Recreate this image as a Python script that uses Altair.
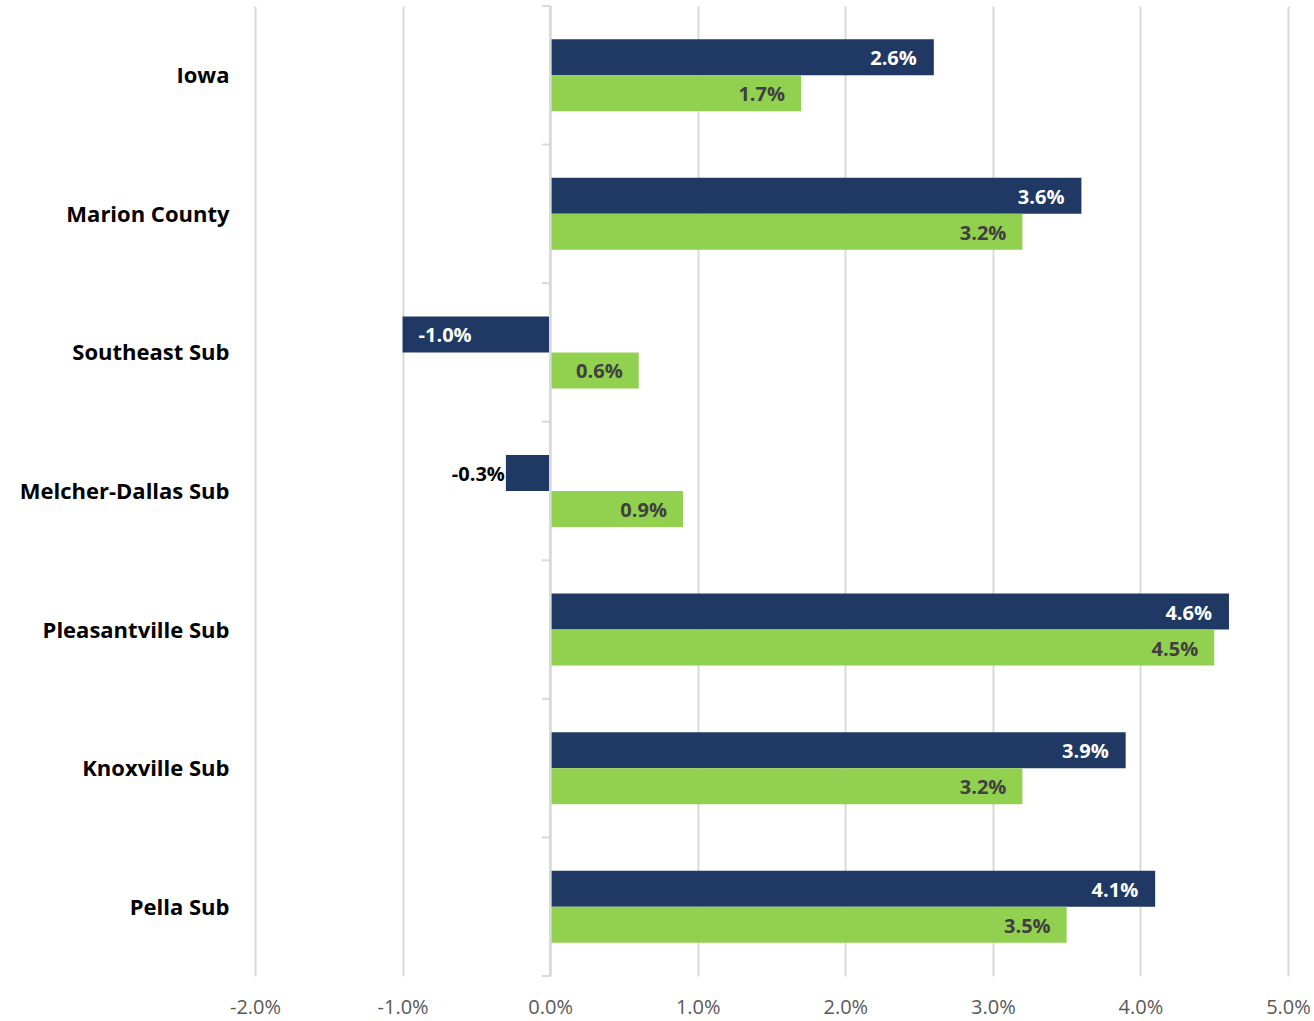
import altair as alt
import pandas as pd

categories = ["Iowa", "Marion County", "Southeast Sub", "Melcher-Dallas Sub",
              "Pleasantville Sub", "Knoxville Sub", "Pella Sub"]
series_names = ["Series 1", "Series 2"]
navy_values = [2.6, 3.6, -1.0, -0.3, 4.6, 3.9, 4.1]
green_values = [1.7, 3.2, 0.6, 0.9, 4.5, 3.2, 3.5]
x_ticks = [-0.02, -0.01, 0.0, 0.01, 0.02, 0.03, 0.04, 0.05]

rows = []
for c, a, b in zip(categories, navy_values, green_values):
    rows.append({"cat": c, "series": series_names[0], "value": a / 100})
    rows.append({"cat": c, "series": series_names[1], "value": b / 100})
df = pd.DataFrame(rows)
cats_df = pd.DataFrame({"cat": categories})

NAVY = "#203864"
GREEN = "#92D050"
GRID = "#d9d9d9"
FONT = "Open Sans"

y_axis = alt.Axis(title=None, domain=False, ticks=False, labelFont=FONT,
                  labelFontWeight="bold", labelFontSize=22, labelColor="#000000",
                  labelPadding=26, labelLimit=400, labelOffset=1)
y_scale = alt.Scale(paddingInner=0, paddingOuter=0)
yenc = alt.Y("cat:N", sort=categories, scale=y_scale, axis=y_axis)
yoff = alt.YOffset("series:N", sort=series_names,
                   scale=alt.Scale(paddingInner=0, paddingOuter=0.925))
x_scale = alt.Scale(domain=[-0.02, 0.05], nice=False, zero=False)
xenc = alt.X("value:Q", scale=x_scale,
             axis=alt.Axis(title=None, format=".1%", values=x_ticks, domain=False,
                           ticks=False, grid=True, gridColor=GRID, gridWidth=2,
                           labelFont=FONT, labelFontSize=20, labelColor="#595959",
                           labelPadding=21, labelFlush=False,
                           labelExpr="replace(datum.label, '\u2212', '-')"))

base = alt.Chart(df).transform_calculate(
    lbl="replace(format(datum.value, '.1%'), '\u2212', '-')"
)

bars = alt.Chart(df).mark_bar().encode(
    x=xenc, y=yenc, yOffset=yoff,
    color=alt.Color("series:N", sort=series_names,
                    scale=alt.Scale(domain=series_names, range=[NAVY, GREEN]),
                    legend=None),
)

txt_common = dict(fontWeight="bold", fontSize=20, font=FONT, baseline="middle", dy=2)
text_enc = dict(x=alt.X("value:Q"), y=alt.Y("cat:N", sort=categories),
                yOffset=yoff, text=alt.Text("lbl:N"))

navy_pos = base.transform_filter(
    (alt.datum.series == series_names[0]) & (alt.datum.value > 0)
).mark_text(align="right", dx=-17, color="white", **txt_common).encode(**text_enc)

navy_neg_big = base.transform_filter(
    (alt.datum.series == series_names[0]) & (alt.datum.value <= -0.005)
).mark_text(align="left", dx=16, color="white", **txt_common).encode(**text_enc)

navy_neg_small = base.transform_filter(
    (alt.datum.series == series_names[0]) & (alt.datum.value < 0) & (alt.datum.value > -0.005)
).mark_text(align="right", dx=-1, color="#000000", **txt_common).encode(**text_enc)

green_txt = base.transform_filter(
    alt.datum.series == series_names[1]
).mark_text(align="right", dx=-16, color="#404040", **txt_common).encode(**text_enc)

zero_line = alt.Chart(cats_df).mark_rule(color=GRID, strokeWidth=2).encode(
    x=alt.datum(0)
)

tick_rules = alt.Chart(cats_df).mark_rule(color=GRID, strokeWidth=2).encode(
    y=alt.Y("cat:N", sort=categories, bandPosition=0),
    x=alt.datum(0), x2=alt.datum(-0.00055),
)
tick_last = alt.Chart(cats_df).transform_filter(
    alt.datum.cat == categories[-1]
).mark_rule(color=GRID, strokeWidth=2).encode(
    y=alt.Y("cat:N", sort=categories, bandPosition=1),
    x=alt.datum(0), x2=alt.datum(-0.00055),
)

chart = alt.layer(
    bars, zero_line, tick_rules, tick_last,
    navy_pos, navy_neg_big, navy_neg_small, green_txt
).properties(
    width=1033, height=970,
    autosize=alt.AutoSizeParams(type="none"),
    padding={"left": 255, "top": 6, "right": 26, "bottom": 45},
    background="white",
).configure_view(strokeWidth=0)

chart.save("out.html", embed_options={"renderer": "svg", "actions": False})
